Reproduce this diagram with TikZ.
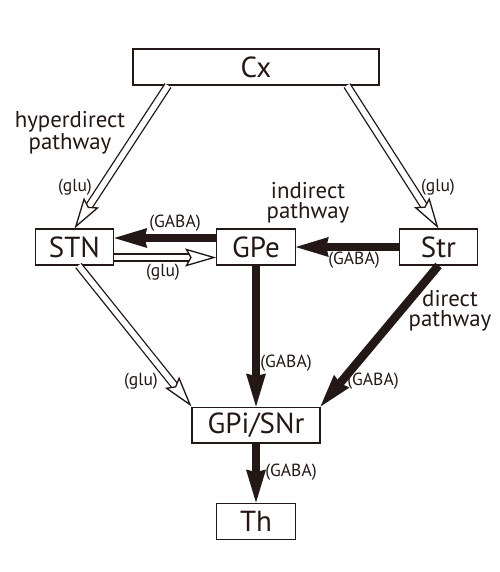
\documentclass[tikz,border=0pt]{standalone}
\usepackage{fontspec}
\setmainfont{PT Sans}
\usetikzlibrary{arrows.meta,positioning,calc}
\definecolor{ink}{RGB}{35,24,21}
\tikzset{%
  area/.style={draw=ink, line width=0.6pt, minimum height=0.72cm, minimum width=1.57cm, inner sep=0pt, font=\fontsize{16.5}{18}\selectfont, text=ink},
  gaba/.style={draw=ink, line width=4.8pt, -{Stealth[length=0.66cm, width=0.4cm, inset=0.05cm, line width=0pt]}},
  glushaft/.style={draw=ink, line width=0.75pt, double=white, double distance=3.2pt, shorten >=0.3cm},
  gluhead/.style={draw=white, line width=0.75pt, -{Stealth[color=ink, fill=white, length=0.62cm, width=0.36cm, inset=0.1cm, line width=0.75pt]}},
  tag/.style={font=\fontsize{10}{11}\selectfont, text=ink, inner sep=1pt},
  pathway/.style={font=\fontsize{13}{11.5}\selectfont, text=ink, align=center, inner sep=0pt},
}
\newcommand{\gluarrow}[2]{%
  \path [glushaft] (#1) -- (#2);
  \path [gluhead] (#1) -- (#2);}

\begin{document}
\begin{tikzpicture}[x=0.02cm, y=-0.02cm]
  \useasboundingbox (0,0) rectangle (500,572);

  % nuclei
  \node (GPe) [area] at (256,247) {GPe};
  \node (STN) [area, left=2.04cm of GPe] {STN};
  \node (Str) [area, right=2.06cm of GPe] {Str};
  \node (Cx) [area, minimum width=4.92cm, above=2.86cm of GPe] {Cx};
  \node (GPi) [area, minimum width=2.56cm, below=2.82cm of GPe] {GPi/SNr};
  \node (Th) [area, below=1.18cm of GPi] {Th};

  % glutamatergic (open) projections
  \coordinate (cxl) at ($(Cx.south)+(-88,0)$);
  \coordinate (cxr) at ($(Cx.south)+(91,0)$);
  \coordinate (stnb) at ($(STN.south)+(4,0)$);
  \gluarrow{cxl}{STN.north}
  \gluarrow{cxr}{Str.north}
  \gluarrow{[yshift=-0.21cm]STN.east}{[yshift=-0.21cm]GPe.west}
  \gluarrow{stnb}{GPi.north west}

  % GABAergic (filled) projections
  \path [gaba] ([yshift=0.18cm]GPe.west) -- ([yshift=0.18cm]STN.east);
  \path [gaba] (Str.west) -- (GPe.east);
  \path [gaba] (GPe.south) -- (GPi.north);
  \path [gaba] (Str.south) -- (GPi.north east);
  \path [gaba] (GPi.south) -- (Th.north);

  % pathway names
  \node (hyper) [pathway] at (70,133) {hyperdirect\\pathway};
  \node (indirect) [pathway] at (308,203) {indirect\\pathway};
  \node (direct) [pathway] at (450,311) {direct\\pathway};

  % transmitters
  \node (glu1) [tag] at (75,187) {(glu)};
  \node (glu2) [tag] at (438,187) {(glu)};
  \node (glu3) [tag] at (163,272) {(glu)};
  \node (glu4) [tag] at (141,381) {(glu)};
  \node (gaba1) [tag] at (175,223) {(GABA)};
  \node (gaba2) [tag] at (354,260) {(GABA)};
  \node (gaba3) [tag] at (286,363) {(GABA)};
  \node (gaba4) [tag] at (373,381) {(GABA)};
  \node (gaba5) [tag] at (291,472) {(GABA)};
\end{tikzpicture}
\end{document}
